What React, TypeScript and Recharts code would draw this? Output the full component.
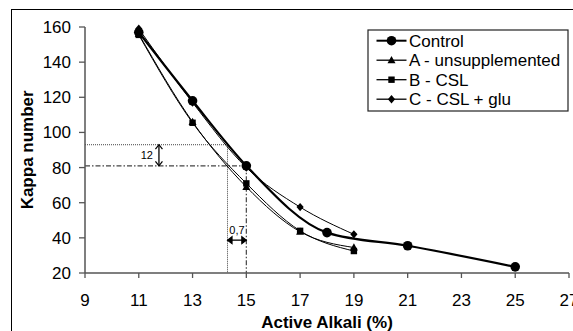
import React from 'react';
import { LineChart, Line, XAxis, YAxis, ReferenceLine } from 'recharts';

const xTicks = [9, 11, 13, 15, 17, 19, 21, 23, 25, 27];
const yTicks = [20, 40, 60, 80, 100, 120, 140, 160];

const controlX = [11, 13, 15, 18, 21, 25];
const controlY = [157, 118, 81, 43, 35.5, 23.5];
const aX = [11, 13, 15, 17, 19];
const aY = [156, 106, 69, 43.5, 34.5];
const bX = [11, 13, 15, 17, 19];
const bY = [155.5, 105.5, 71, 44, 32.5];
const cX = [11, 13, 15, 17, 19];
const cY = [159, 117, 80, 57.5, 42];

const seriesNames = ['Control', 'A - unsupplemented', 'B - CSL', 'C - CSL + glu'];
const seriesMarkers = ['circle', 'triangle', 'square', 'diamond'];

// guide lines (kappa 93 / 81, alkali 14.3 / 15)
const guideDotted = { y: 93, x: 14.3 };
const guideDashDot = { y: 81, x: 15 };
const arrowV = { x: 11.75, y1: 93, y2: 81, label: '12' };
const arrowH = { y: 38.7, x1: 14.3, x2: 15, label: '0,7' };

const toData = (xs: number[], ys: number[]) => xs.map((x, i) => ({ x, y: ys[i] }));
const controlData = toData(controlX, controlY);
const aData = toData(aX, aY);
const bData = toData(bX, bY);
const cData = toData(cX, cY);

const FONT = 'Liberation Sans, Arial, sans-serif';

function marker(kind: string, cx: number, cy: number, key?: string) {
  switch (kind) {
    case 'circle':
      return <circle key={key} cx={cx} cy={cy} r={4.8} fill="#000" />;
    case 'triangle':
      return <path key={key} d={`M${cx},${cy - 4.2}L${cx + 4},${cy + 3}L${cx - 4},${cy + 3}Z`} fill="#000" />;
    case 'square':
      return <rect key={key} x={cx - 3.2} y={cy - 3.2} width={6.4} height={6.4} fill="#000" />;
    default:
      return <path key={key} d={`M${cx},${cy - 4.2}L${cx + 3.6},${cy}L${cx},${cy + 4.2}L${cx - 3.6},${cy}Z`} fill="#000" />;
  }
}

const dotFn = (kind: string, name: string) => (p: any) => {
  if (p.cx == null || p.cy == null) return <g key={`${name}-${p.index}`} />;
  return marker(kind, p.cx, p.cy, `${name}-${p.index}`);
};

const arrowShape = (label: string, vertical: boolean) => (p: any) => {
  const { x1, y1, x2, y2 } = p;
  const h = 3.5;
  let heads: string;
  let text: React.ReactNode;
  if (vertical) {
    const top = Math.min(y1, y2);
    const bot = Math.max(y1, y2);
    heads = `M${x1 - h},${top + h + 1}L${x1},${top}L${x1 + h},${top + h + 1}M${x1 - h},${bot - h - 1}L${x1},${bot}L${x1 + h},${bot - h - 1}`;
    text = (
      <text x={x1 - 6} y={(y1 + y2) / 2 + 4} textAnchor="end" fontSize={11} fontFamily={FONT} fill="#000">
        {label}
      </text>
    );
  } else {
    const l = Math.min(x1, x2);
    const r = Math.max(x1, x2);
    heads = `M${l + h + 1},${y1 - h}L${l},${y1}L${l + h + 1},${y1 + h}ZM${r - h - 1},${y1 - h}L${r},${y1}L${r - h - 1},${y1 + h}Z`;
    text = (
      <text x={(x1 + x2) / 2} y={y1 - 6} textAnchor="middle" fontSize={11} fontFamily={FONT} fill="#000">
        {label}
      </text>
    );
  }
  return (
    <g>
      <line x1={x1} y1={y1} x2={x2} y2={y2} stroke="#000" strokeWidth={1.3} />
      <path d={heads} stroke="#000" strokeWidth={1.2} fill={vertical ? 'none' : '#000'} />
      {text}
    </g>
  );
};

const YTitle = (p: any) => {
  const vb = p.viewBox || {};
  const cy = 26.7 + (273 - 26.7) / 2;
  return (
    <text
      x={33}
      y={cy}
      transform={`rotate(-90, 33, ${cy})`}
      textAnchor="middle"
      fontSize={17}
      fontWeight="bold"
      fontFamily={FONT}
      fill="#000"
    >
      Kappa number
    </text>
  );
};

const XTitle = (p: any) => {
  const vb = p.viewBox || {};
  return (
    <text x={vb.x + vb.width / 2} y={327.5} textAnchor="middle" fontSize={17} fontWeight="bold" fontFamily={FONT} fill="#000">
      Active Alkali (%)
    </text>
  );
};

const LegendBox = () => (
  <svg width={202} height={83} style={{ position: 'absolute', left: 367, top: 29 }}>
    <rect x={1} y={1} width={200} height={81} fill="#fff" stroke="#222" strokeWidth={1.2} />
    {seriesNames.map((n, i) => {
      const base = 17.7 + i * 19.5;
      const my = base - 6;
      return (
        <g key={n}>
          <line x1={9.5} x2={39.5} y1={my} y2={my} stroke="#000" strokeWidth={i === 0 ? 2 : 1.3} />
          {marker(seriesMarkers[i], 24.5, my)}
          <text x={42} y={base} fontSize={17} fontFamily={FONT} fill="#000">
            {n}
          </text>
        </g>
      );
    })}
  </svg>
);

export default function App() {
  return (
    <div style={{ position: 'absolute', left: 0, top: 0, width: 573, height: 331, overflow: 'hidden', background: '#fff' }}>
      <div
        style={{
          position: 'absolute',
          left: 11,
          top: 9,
          width: 700,
          height: 500,
          borderTop: '1.5px solid #000',
          borderLeft: '1.5px solid #000',
        }}
      />
      <div style={{ position: 'absolute', left: 0, top: 0 }}>
        <LineChart width={573} height={331} margin={{ top: 27, right: 4, bottom: 0, left: 0 }}>
          <XAxis
            type="number"
            dataKey="x"
            domain={[9, 27]}
            ticks={xTicks}
            interval={0}
            height={58}
            tickSize={5}
            tickMargin={16}
            axisLine={{ stroke: '#555', strokeWidth: 1.5 }}
            tickLine={{ stroke: '#555', strokeWidth: 1.3 }}
            tick={{ fontSize: 17, fontFamily: FONT, fill: '#000' }}
            allowDuplicatedCategory={false}
            label={{ content: XTitle }}
          />
          <YAxis
            type="number"
            domain={[20, 160]}
            ticks={yTicks}
            interval={0}
            width={85}
            tickSize={6}
            tickMargin={8}
            axisLine={{ stroke: '#555', strokeWidth: 1.5 }}
            tickLine={{ stroke: '#555', strokeWidth: 1.3 }}
            tick={{ fontSize: 17, fontFamily: FONT, fill: '#000' }}
            label={{ content: YTitle }}
          />
          <ReferenceLine
            segment={[{ x: 9, y: guideDotted.y }, { x: guideDotted.x, y: guideDotted.y }]}
            stroke="#444"
            strokeWidth={1}
            strokeDasharray="1 1"
          />
          <ReferenceLine
            segment={[{ x: guideDotted.x, y: guideDotted.y }, { x: guideDotted.x, y: 20 }]}
            stroke="#444"
            strokeWidth={1}
            strokeDasharray="1 1"
          />
          <ReferenceLine
            segment={[{ x: 9, y: guideDashDot.y }, { x: guideDashDot.x, y: guideDashDot.y }]}
            stroke="#444"
            strokeWidth={1.2}
            strokeDasharray="5 2 1.5 2"
          />
          <ReferenceLine
            segment={[{ x: guideDashDot.x, y: guideDashDot.y }, { x: guideDashDot.x, y: 20 }]}
            stroke="#444"
            strokeWidth={1.2}
            strokeDasharray="5 2 1.5 2"
          />
          <ReferenceLine
            segment={[{ x: arrowV.x, y: arrowV.y1 }, { x: arrowV.x, y: arrowV.y2 }]}
            shape={arrowShape(arrowV.label, true)}
          />
          <ReferenceLine
            segment={[{ x: arrowH.x1, y: arrowH.y }, { x: arrowH.x2, y: arrowH.y }]}
            shape={arrowShape(arrowH.label, false)}
          />
          <Line
            data={cData}
            dataKey="y"
            name={seriesNames[3]}
            type="monotone"
            stroke="#000"
            strokeWidth={1}
            dot={dotFn('diamond', 'c')}
            activeDot={false}
            isAnimationActive={false}
          />
          <Line
            data={bData}
            dataKey="y"
            name={seriesNames[2]}
            type="monotone"
            stroke="#000"
            strokeWidth={1}
            dot={dotFn('square', 'b')}
            activeDot={false}
            isAnimationActive={false}
          />
          <Line
            data={aData}
            dataKey="y"
            name={seriesNames[1]}
            type="monotone"
            stroke="#000"
            strokeWidth={1}
            dot={dotFn('triangle', 'a')}
            activeDot={false}
            isAnimationActive={false}
          />
          <Line
            data={controlData}
            dataKey="y"
            name={seriesNames[0]}
            type="monotone"
            stroke="#000"
            strokeWidth={2.2}
            dot={dotFn('circle', 'ctrl')}
            activeDot={false}
            isAnimationActive={false}
          />
        </LineChart>
      </div>
      <LegendBox />
    </div>
  );
}
